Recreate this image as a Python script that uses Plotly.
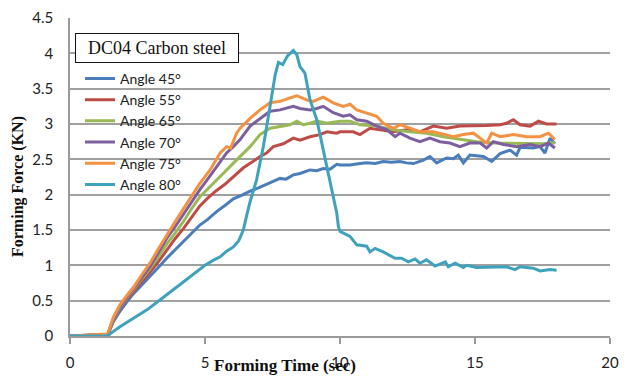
import plotly.graph_objects as go

# Forming force vs. time for DC04 carbon steel at several wall angles
t45 = [0, 1.4, 1.6, 1.85, 2.1, 2.35, 2.65, 2.96, 3.27, 3.58, 3.9, 4.2, 4.5, 4.81, 5.1, 5.43,
       5.75, 6.05, 6.35, 6.67, 7.0, 7.28, 7.55, 7.78, 8.0, 8.27, 8.52, 8.89, 9.14, 9.38, 9.63,
       9.88, 10.0, 10.37, 10.74, 10.99, 11.3, 11.6, 11.9, 12.22, 12.47, 12.72, 13.09, 13.33,
       13.58, 13.95, 14.2, 14.38, 14.57, 14.81, 15.06, 15.31, 15.62, 15.93, 16.3, 16.54, 16.67,
       17.16, 17.41, 17.59, 17.78, 17.96]
f45 = [0, 0.02, 0.2, 0.35, 0.48, 0.6, 0.72, 0.84, 0.97, 1.1, 1.22, 1.34, 1.45, 1.57, 1.65, 1.76,
       1.85, 1.94, 1.99, 2.05, 2.1, 2.15, 2.2, 2.23, 2.22, 2.28, 2.3, 2.35, 2.34, 2.37, 2.36,
       2.43, 2.42, 2.42, 2.44, 2.45, 2.44, 2.47, 2.46, 2.47, 2.45, 2.44, 2.49, 2.54,
       2.45, 2.52, 2.51, 2.56, 2.45, 2.56, 2.55, 2.54, 2.47, 2.58, 2.63, 2.56, 2.67,
       2.66, 2.68, 2.59, 2.8, 2.72]

t55 = [0, 1.4, 1.6, 1.85, 2.1, 2.35, 2.65, 2.96, 3.27, 3.58, 3.9, 4.2, 4.5, 4.81, 5.1, 5.43,
       5.75, 6.05, 6.42, 6.7, 7.04, 7.28, 7.53, 7.9, 8.27, 8.52, 8.89, 9.26, 9.51, 9.88, 10.0,
       10.49, 10.74, 11.11, 11.48, 11.98, 12.47, 12.96, 13.46, 13.95, 14.44, 14.94, 15.43,
       15.93, 16.17, 16.42, 16.67, 17.04, 17.35, 17.65, 18.02]
f55 = [0, 0.02, 0.22, 0.4, 0.52, 0.63, 0.76, 0.9, 1.05, 1.22, 1.38, 1.52, 1.67, 1.84, 1.95, 2.06,
       2.15, 2.25, 2.38, 2.45, 2.54, 2.59, 2.68, 2.72, 2.8, 2.77, 2.82, 2.85, 2.89, 2.87, 2.89,
       2.89, 2.85, 2.94, 2.92, 2.89, 2.92, 2.89, 2.97, 2.94, 2.97, 2.97, 2.98,
       2.99, 3.01, 3.06, 2.99, 2.97, 3.04, 3.0, 3.0]

t65 = [0, 1.4, 1.6, 1.85, 2.1, 2.35, 2.65, 2.96, 3.27, 3.58, 3.9, 4.2, 4.5, 4.81, 5.1, 5.43,
       5.75, 6.05, 6.35, 6.67, 7.04, 7.41, 7.9, 8.15, 8.4, 8.64, 8.9, 9.14, 9.51, 10.0, 10.37,
       10.74, 11.36, 11.98, 12.59, 13.21, 13.83, 14.44, 15.06, 15.68, 16.42, 17.16, 17.6, 17.96]
f65 = [0, 0.02, 0.23, 0.41, 0.54, 0.66, 0.8, 0.95, 1.12, 1.3, 1.46, 1.62, 1.8, 1.97, 2.08, 2.21,
       2.33, 2.45, 2.56, 2.68, 2.85, 2.94, 2.97, 2.99, 3.04, 2.99, 3.01, 3.04, 3.01, 3.04, 3.04,
       2.99, 2.97, 2.92, 2.89, 2.87, 2.82, 2.78, 2.75, 2.73, 2.73, 2.73, 2.72, 2.74]

t70 = [0, 1.4, 1.6, 1.85, 2.1, 2.35, 2.65, 2.96, 3.27, 3.58, 3.9, 4.2, 4.5, 4.81, 5.1, 5.43,
       5.8, 6.05, 6.3, 6.67, 7.04, 7.41, 7.78, 8.02, 8.27, 8.52, 8.89, 9.14, 9.38, 9.75, 10.12,
       10.37, 10.62, 10.99, 11.36, 11.73, 12.04, 12.22, 12.59, 12.96, 13.33, 13.7, 14.07,
       14.44, 14.81, 15.19, 15.43, 15.68, 16.05, 16.54, 17.04, 17.41, 17.72, 17.96]
f70 = [0, 0.02, 0.24, 0.42, 0.55, 0.67, 0.82, 0.98, 1.18, 1.38, 1.55, 1.72, 1.9, 2.07, 2.22, 2.4,
       2.59, 2.68, 2.78, 2.97, 3.08, 3.18, 3.2, 3.22, 3.25, 3.22, 3.2, 3.22, 3.25, 3.16, 3.11,
       3.13, 3.06, 3.04, 2.97, 2.92, 2.82, 2.87, 2.8, 2.75, 2.8, 2.75, 2.73,
       2.68, 2.73, 2.73, 2.66, 2.75, 2.71, 2.68, 2.71, 2.68, 2.73, 2.66]

t75 = [0, 1.4, 1.6, 1.85, 2.1, 2.35, 2.65, 2.96, 3.27, 3.58, 3.9, 4.2, 4.5, 4.81, 5.19, 5.56,
       5.8, 5.95, 6.17, 6.3, 6.67, 7.04, 7.41, 7.78, 8.15, 8.4, 8.77, 9.01, 9.38, 9.75, 10.12,
       10.37, 10.62, 10.99, 11.36, 11.6, 11.98, 12.22, 12.59, 12.96, 13.46, 13.83, 14.2,
       14.57, 14.94, 15.19, 15.43, 15.62, 15.93, 16.42, 16.91, 17.41, 17.72, 17.96]
f75 = [0, 0.03, 0.26, 0.44, 0.57, 0.69, 0.86, 1.03, 1.23, 1.43, 1.62, 1.8, 1.98, 2.16, 2.35, 2.59,
       2.68, 2.66, 2.87, 2.94, 3.08, 3.2, 3.3, 3.32, 3.37, 3.4, 3.34, 3.32, 3.38, 3.3, 3.25,
       3.28, 3.2, 3.15, 3.11, 3.01, 2.94, 2.99, 2.94, 2.89, 2.89, 2.85, 2.82,
       2.85, 2.87, 2.8, 2.73, 2.87, 2.82, 2.85, 2.82, 2.82, 2.87, 2.78]

t80 = [0, 1.4, 1.48, 1.85, 2.35, 2.85, 3.33, 3.75, 4.2, 4.6, 5.0, 5.3, 5.56, 5.8, 6.05, 6.25,
       6.42, 6.54, 6.67, 6.91, 7.16, 7.41, 7.6, 7.72, 7.88, 8.05, 8.27, 8.4, 8.52, 8.7, 8.89,
       9.14, 9.38, 9.63, 9.88, 9.94, 10.0, 10.37, 10.62, 10.99, 11.11, 11.3, 11.6, 12.04,
       12.28, 12.53, 12.78, 12.96, 13.2, 13.52, 13.9, 14.01, 14.26, 14.57, 14.69, 15.06,
       15.68, 16.17, 16.48, 16.67, 17.16, 17.41, 17.78, 18.02]
f80 = [0, 0.0, 0.03, 0.13, 0.25, 0.37, 0.51, 0.63, 0.77, 0.88, 1.0, 1.07, 1.12, 1.2, 1.26, 1.35,
       1.5, 1.7, 1.9, 2.21, 2.68, 3.25, 3.7, 3.87, 3.84, 3.96, 4.04, 3.98, 3.81, 3.72, 3.34,
       3.06, 2.63, 2.16, 1.74, 1.55, 1.48, 1.41, 1.29, 1.27, 1.19, 1.24, 1.19, 1.1,
       1.1, 1.05, 1.09, 1.03, 1.08, 0.99, 1.05, 0.98, 1.03, 0.97, 1.0, 0.97,
       0.98, 0.98, 0.94, 0.98, 0.96, 0.92, 0.94, 0.93]

series_names = ["Angle 45°", "Angle 55°", "Angle 65°", "Angle 70°", "Angle 75°", "Angle 80°"]
series_t = [t45, t55, t65, t70, t75, t80]
series_f = [f45, f55, f65, f70, f75, f80]
series_colors = ["#4a7ebb", "#be4b48", "#98b954", "#7d5fa0", "#f59142", "#3fa2bd"]

x_ticks = [0, 5, 10, 15, 20]
y_ticks = [0, 0.5, 1, 1.5, 2, 2.5, 3, 3.5, 4, 4.5]

fig = go.Figure()
for name, t, f, c in zip(series_names, series_t, series_f, series_colors):
    fig.add_trace(go.Scatter(x=t, y=f, mode="lines", name=name,
                             line=dict(color=c, width=3)))

sans = "Lato, 'Open Sans', sans-serif"
serif = "'Liberation Serif', 'Times New Roman', serif"

fig.update_layout(
    width=630, height=376,
    margin=dict(l=70, r=20, t=18, b=40, autoexpand=False),
    paper_bgcolor="white", plot_bgcolor="white",
    font=dict(family=sans, size=15, color="#222"),
    showlegend=True,
    legend=dict(x=0.0185, y=0.859, xanchor="left", yanchor="top",
                bgcolor="rgba(0,0,0,0)", borderwidth=0,
                font=dict(family=sans, size=14, color="#222"),
                tracegroupgap=0, itemwidth=30),
    xaxis=dict(range=[0, 20], tickvals=x_ticks, showgrid=False, zeroline=False,
               automargin=False,
               showline=True, linecolor="#9a9a9a", linewidth=1.5,
               ticks="outside", ticklen=6, tickcolor="#9a9a9a", tickwidth=1.5,
               ticklabelstandoff=6, tickfont=dict(family=sans, size=15, color="#222")),
    yaxis=dict(range=[0, 4.5], tickvals=y_ticks, showgrid=True, gridcolor="#a0a0a0",
               gridwidth=1.5, zeroline=False, showline=True, linecolor="#9a9a9a",
               automargin=False,
               linewidth=1.5, ticks="", ticklabelstandoff=12,
               tickfont=dict(family=sans, size=15, color="#222")),
    annotations=[
        dict(text="DC04 Carbon steel", x=0.2, y=4.29, xref="x", yref="y",
             xanchor="left", yanchor="top", showarrow=False,
             font=dict(family=serif, size=18, color="#111"),
             bgcolor="white", bordercolor="#111", borderwidth=1,
             width=158, height=24, borderpad=2, align="center"),
        dict(text="<b>Forming Time (sec)</b>", x=0.398, y=-0.094, xref="paper",
             yref="paper", xanchor="center", yanchor="middle", showarrow=False,
             font=dict(family=serif, size=17, color="#111")),
        dict(text="<b>Forming Force (KN)</b>", x=-0.096, y=0.469, xref="paper",
             yref="paper", xanchor="center", yanchor="middle", showarrow=False,
             textangle=-90, font=dict(family=serif, size=16, color="#111")),
    ],
)

fig.write_html("out.html")
